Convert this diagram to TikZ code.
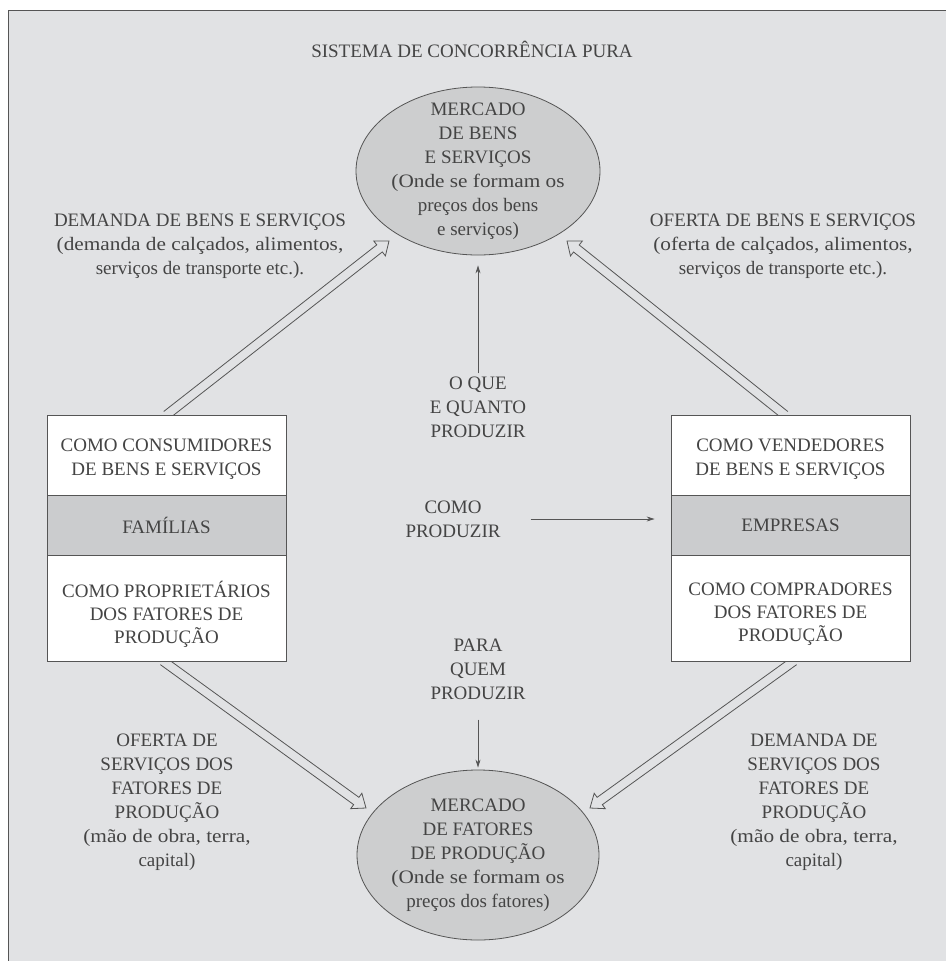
\documentclass[tikz,border=0pt]{standalone}
\usepackage{fontspec}
\setmainfont{Liberation Serif}
\newfontfamily\lcf[FakeStretch=1.12]{Liberation Serif}
\usetikzlibrary{shapes.geometric,arrows.meta,calc}
\definecolor{bg}{HTML}{E1E2E4}
\definecolor{ink}{HTML}{444444}
\definecolor{edge}{HTML}{555555}
\definecolor{band}{HTML}{CBCCCE}
\definecolor{ellfill}{HTML}{CDCECF}
% hollow double-line arrow: #1 tail, #2 tip
\newcommand{\hollowarr}[2]{%
  \coordinate (hb) at ($(#2)!12pt!(#1)$);
  \draw[dblarr] ($(#1)!4.5pt!90:(#2)$) -- ($(hb)!4.5pt!90:(#2)$) -- ($(hb)!9.5pt!90:(#2)$) -- (#2)
     -- ($(hb)!9.5pt!-90:(#2)$) -- ($(hb)!4.5pt!-90:(#2)$) -- ($(#1)!4.5pt!-90:(#2)$);
}
\begin{document}
\begin{tikzpicture}[x=1pt,y=-1pt,
  every node/.style={text=ink, font=\fontsize{19}{24}\selectfont, align=center, inner sep=0pt},
  market/.style={ellipse, draw=edge, fill=ellfill, line width=0.8pt},
  wbox/.style={rectangle, draw=edge, fill=white, line width=0.8pt, minimum width=239},
  gbox/.style={rectangle, draw=edge, fill=band, line width=0.8pt, minimum width=239, minimum height=60},
  dblarr/.style={draw=edge, line width=0.8pt, line join=miter, fill=bg},
  thinarr/.style={draw=edge, line width=0.8pt, -{Stealth[length=8pt,width=5pt]}}]
\useasboundingbox (0,0) rectangle (946,961);
\fill[white] (0,0) rectangle (946,961);
\fill[bg] (8,10) rectangle (946,961);
\draw[edge, line width=1pt] (8,961) -- (8,10) -- (946,10);

\node (title) at (472,49) {SISTEMA DE CONCORRÊNCIA PURA};

% markets
\node[market, minimum width=244, minimum height=168] (mbs) at (478,171) {};
\node (mbstxt) at (mbs.center) {MERCADO\\DE BENS\\E SERVIÇOS\\\lcf (Onde se formam os\\preços dos bens\\e serviços)};
\node[market, minimum width=242, minimum height=170] (mfp) at (478,855) {};
\node (mfptxt) at (mfp.center) {MERCADO\\DE FATORES\\DE PRODUÇÃO\\\lcf (Onde se formam os\\preços dos fatores)};

% tips of the hollow arrows
\coordinate (tip1) at (389,241);
\coordinate (tip2) at (567,241);
\coordinate (tip3) at (366,808);
\coordinate (tip4) at (590,808);
\coordinate (tail1) at (166.5,415);
\coordinate (tail2) at (785,415);
\coordinate (tail3) at (163,661);
\coordinate (tail4) at (794,661);
\hollowarr{tail1}{tip1}
\hollowarr{tail2}{tip2}
\hollowarr{tail3}{tip3}
\hollowarr{tail4}{tip4}

% families
\node[wbox, minimum height=80] (famtop) at (166.5,455) {};
\node (famtoptxt) at (166.5,459) {COMO CONSUMIDORES\\DE BENS E SERVIÇOS};
\node[gbox] (fammid) at (166.5,525) {FAMÍLIAS};
\node[wbox, minimum height=106] (fambot) at (166.5,608) {};
\node[font=\fontsize{19}{23}\selectfont] (fambottxt) at (166.5,614) {COMO PROPRIETÁRIOS\\DOS FATORES DE\\PRODUÇÃO};
% firms
\node[wbox, minimum height=80] (emptop) at (790.5,455) {};
\node (emptoptxt) at (790.5,459) {COMO VENDEDORES\\DE BENS E SERVIÇOS};
\node[gbox] (empmid) at (790.5,525) {EMPRESAS};
\node[wbox, minimum height=106] (empbot) at (790.5,608) {};
\node[font=\fontsize{19}{23}\selectfont] (empbottxt) at (790.5,614) {COMO COMPRADORES\\DOS FATORES DE\\PRODUÇÃO};

% flow labels
\node (dbs) at (200,246) {DEMANDA DE BENS E SERVIÇOS\\\lcf (demanda de calçados, alimentos,\\serviços de transporte etc.).};
\node (obs) at (783,246) {OFERTA DE BENS E SERVIÇOS\\\lcf (oferta de calçados, alimentos,\\serviços de transporte etc.).};
\node (osf) at (167,802) {OFERTA DE\\SERVIÇOS DOS\\FATORES DE\\PRODUÇÃO\\\lcf (mão de obra, terra,\\capital)};
\node (dsf) at (814,802) {DEMANDA DE\\SERVIÇOS DOS\\FATORES DE\\PRODUÇÃO\\\lcf (mão de obra, terra,\\capital)};

% questions
\node (oque) at (478,407) {O QUE\\E QUANTO\\PRODUZIR};
\node (como) at (453,519) {COMO\\PRODUZIR};
\node (para) at (478,669) {PARA\\QUEM\\PRODUZIR};

\draw[thinarr, shorten <=3pt, shorten >=10pt] (oque.north) -- (mbs.south);
\draw[thinarr] ([xshift=30pt]como.east) -- ([xshift=-16pt]empmid.west |- como.east);
\draw[thinarr, shorten <=20pt, shorten >=2pt] (para.south) -- (mfp.north);
\end{tikzpicture}
\end{document}
